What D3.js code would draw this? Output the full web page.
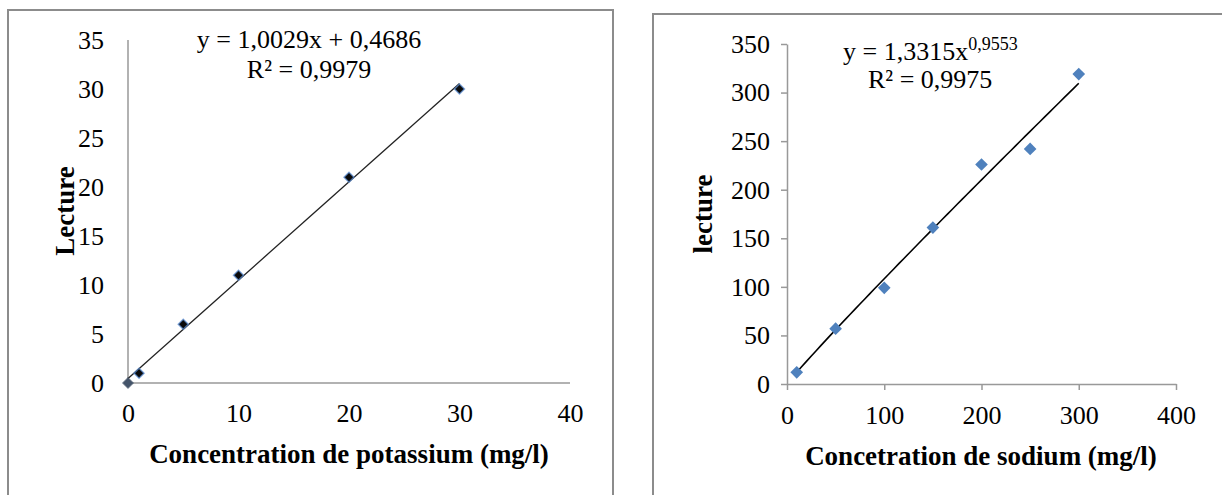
<!DOCTYPE html>
<html>
<head>
<meta charset="utf-8">
<script src="https://cdn.jsdelivr.net/npm/d3@7"></script>
<style>
  body { margin: 0; background: #fff; }
  svg text { font-family: 'Liberation Serif', 'Times New Roman', serif; fill: #000; }
  .domain { stroke: #999; stroke-width: 1.5; }
  .tick line { stroke: #999; stroke-width: 1.5; }
  .tick text { font-family: 'Liberation Serif', 'Times New Roman', serif !important; font-size: 26px; }
</style>
</head>
<body>
<div class="container"></div>
<script>
//=================================================
// Data
//=================================================
var potassiumConc = [0, 1, 5, 10, 20, 30];
var potassiumRead = [0, 1, 6, 11, 21, 30];
var potassiumTicksX = [0, 10, 20, 30, 40];
var potassiumTicksY = [0, 5, 10, 15, 20, 25, 30, 35];
var potassiumFit = { a: 1.0029, b: 0.4686 };   // y = a x + b

var sodiumConc = [10, 50, 100, 150, 200, 250, 300];
var sodiumRead = [12, 57, 99, 161, 226, 242, 319];
var sodiumTicksX = [0, 100, 200, 300, 400];
var sodiumTicksY = [0, 50, 100, 150, 200, 250, 300, 350];
var sodiumFit = { a: 1.3315, b: 0.9553 };      // y = a x^b

var width = 1222, height = 495;

var svg = d3.select(".container").
append("svg").
attr("width", width).
attr("height", height);

var fmt = d => String(d);
var diamond = d3.symbol().type(d3.symbolSquare);

// drop the sans-serif that d3 puts on axis groups
function styleAxis(g) {
  g.attr("font-family", null).attr("font-size", null);
}

//=================================================
// Frames
//=================================================
svg.append("path").
attr("d", "M8,500 L8,10 L613,10 L613,500").
attr("fill", "none").
attr("stroke", "#8c8c8c").
attr("stroke-width", 2);

svg.append("path").
attr("d", "M653,500 L653,14 L1230,14").
attr("fill", "none").
attr("stroke", "#8c8c8c").
attr("stroke-width", 2);

//=================================================
// Left chart : potassium
//=================================================
var xK = d3.scaleLinear().domain([0, 40]).range([128, 570]);
var yK = d3.scaleLinear().domain([0, 35]).range([383, 40]);

svg.append("g").
attr("transform", "translate(0,383)").
call(d3.axisBottom(xK).tickValues(potassiumTicksX).tickFormat(fmt).tickSize(0).tickPadding(21)).
call(g => g.select(".domain").attr("d", "M128,0H570")).
call(styleAxis);

svg.append("g").
attr("transform", "translate(128,0)").
call(d3.axisLeft(yK).tickValues(potassiumTicksY).tickFormat(fmt).tickSize(0).tickPadding(24)).
call(g => g.select(".domain").attr("d", "M0,40V383")).
call(styleAxis);

// trend line
svg.append("line").
attr("x1", xK(0)).attr("y1", yK(potassiumFit.a * 0 + potassiumFit.b)).
attr("x2", xK(30)).attr("y2", yK(potassiumFit.a * 30 + potassiumFit.b)).
attr("stroke", "#222").
attr("stroke-width", 1.3);

// points
svg.append("g").
selectAll("path").
data(potassiumConc).
enter().
append("path").
attr("d", diamond.size(50)).
attr("transform", (d, i) => "translate(" + xK(d) + "," + yK(potassiumRead[i]) + ") rotate(45)").
attr("fill", (d, i) => i === 0 ? "#44546a" : "#0a0a0a").
attr("stroke", (d, i) => i === 0 ? "#44546a" : "#5b8fd6").
attr("stroke-opacity", 0.7).
attr("stroke-width", 1.5);

// equation
svg.append("text").
attr("x", 309).attr("y", 48).
attr("text-anchor", "middle").
style("font-size", "26px").
text("y = 1,0029x + 0,4686");

svg.append("text").
attr("x", 309).attr("y", 78).
attr("text-anchor", "middle").
style("font-size", "26px").
text("R² = 0,9979");

// axis titles
svg.append("text").
attr("x", 349).attr("y", 463).
attr("text-anchor", "middle").
style("font-size", "27px").
style("font-weight", "bold").
text("Concentration de potassium (mg/l)");

svg.append("text").
attr("transform", "translate(74,211) rotate(-90)").
attr("text-anchor", "middle").
style("font-size", "27px").
style("font-weight", "bold").
text("Lecture");

//=================================================
// Right chart : sodium
//=================================================
var xN = d3.scaleLinear().domain([0, 400]).range([787, 1176]);
var yN = d3.scaleLinear().domain([0, 350]).range([384, 44]);

svg.append("g").
attr("transform", "translate(0,384)").
call(d3.axisBottom(xN).tickValues(sodiumTicksX).tickFormat(fmt).tickSizeInner(6).tickSizeOuter(0).tickPadding(16)).
call(styleAxis);

svg.append("g").
attr("transform", "translate(787,0)").
call(d3.axisLeft(yN).tickValues(sodiumTicksY).tickFormat(fmt).tickSizeInner(6).tickSizeOuter(0).tickPadding(11)).
call(styleAxis);

// power trend line
var fitX = d3.range(10, 301, 5);
svg.append("path").
datum(fitX).
attr("d", d3.line().x(d => xN(d)).y(d => yN(sodiumFit.a * Math.pow(d, sodiumFit.b)))).
attr("fill", "none").
attr("stroke", "#000").
attr("stroke-width", 1.6);

// points
svg.append("g").
selectAll("path").
data(sodiumConc).
enter().
append("path").
attr("d", diamond.size(80)).
attr("transform", (d, i) => "translate(" + xN(d) + "," + yN(sodiumRead[i]) + ") rotate(45)").
attr("fill", "#4f81bd");

// equation
var eq = svg.append("text").
attr("x", 843).attr("y", 60).
style("font-size", "26px");
eq.append("tspan").text("y = 1,3315x");
eq.append("tspan").attr("dy", -10).style("font-size", "18px").text("0,9553");

svg.append("text").
attr("x", 868).attr("y", 88).
style("font-size", "26px").
text("R² = 0,9975");

// axis titles
svg.append("text").
attr("x", 981).attr("y", 465).
attr("text-anchor", "middle").
style("font-size", "27px").
style("font-weight", "bold").
text("Concetration de sodium (mg/l)");

svg.append("text").
attr("transform", "translate(712,214) rotate(-90)").
attr("text-anchor", "middle").
style("font-size", "27px").
style("font-weight", "bold").
text("lecture");
</script>
</body>
</html>
